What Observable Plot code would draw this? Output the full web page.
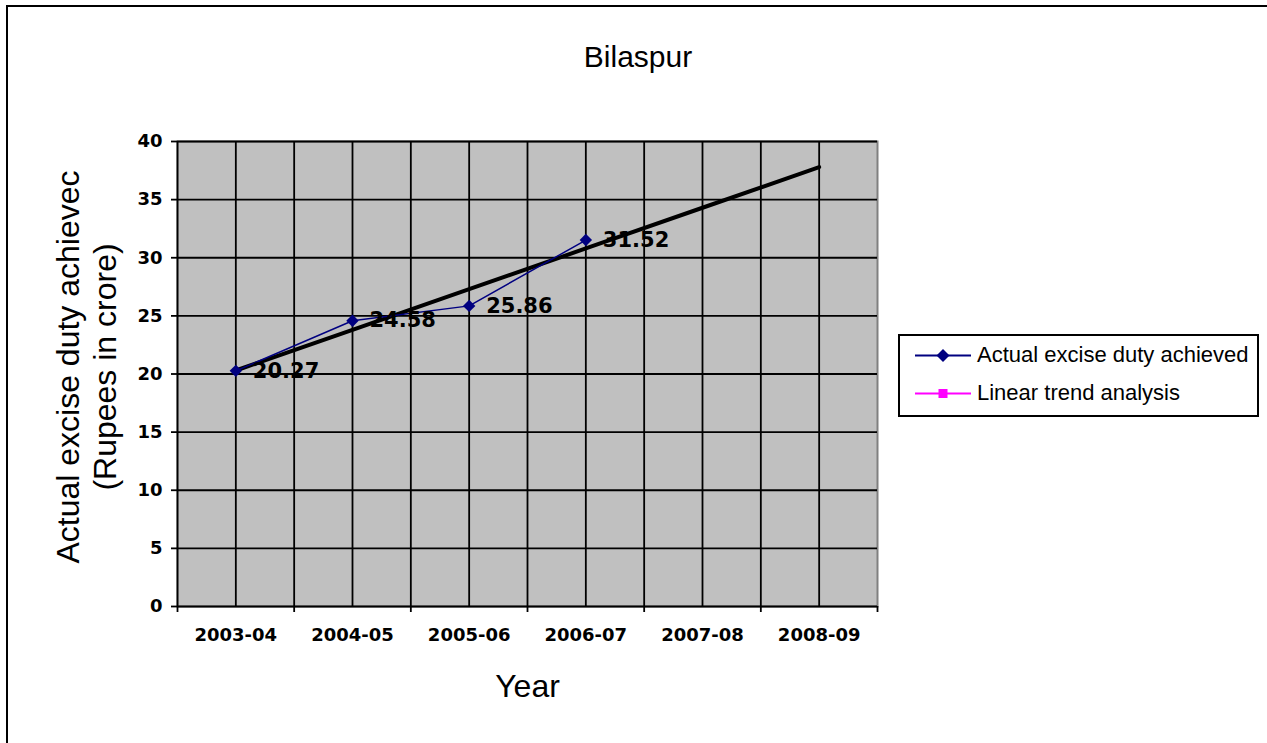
<!DOCTYPE html>
<html><head><meta charset="utf-8">
<script src="https://cdn.jsdelivr.net/npm/d3@7"></script>
<script src="https://cdn.jsdelivr.net/npm/@observablehq/plot@0.6"></script>
<style>
body{margin:0;overflow:hidden;background:#fff;font-family:"Liberation Sans",Arial,sans-serif}
#wrap{position:relative;width:1267px;height:743px;overflow:hidden;background:#fff}
#border{position:absolute;left:6px;top:5px;width:1300px;height:800px;border:2px solid #000}
#chart{position:absolute;left:0;top:0}
#title{position:absolute;left:0;width:1276px;top:40px;text-align:center;font-size:30px;line-height:34px;color:#000}
#legend{position:absolute;left:898px;top:334px;width:361px;height:83px;border:2px solid #000;background:#fff;box-sizing:border-box}
.row{position:absolute;left:15px;height:26px;display:flex;align-items:center;font-size:22px;white-space:nowrap;color:#000}
.row svg{margin-right:6px;flex:none}
</style></head>
<body>
<div id="wrap">
<div id="border"></div>
<div id="chart"></div>
<div id="title"></div>
<div id="legend"></div>
</div>
<script>
const chartTitle = "Bilaspur";
const years = ["2003-04","2004-05","2005-06","2006-07","2007-08","2008-09"];
const actual = [20.27, 24.58, 25.86, 31.52];
const trend = [20.3, 23.8, 27.3, 30.8, 34.3, 37.8];
const yTicks = [0,5,10,15,20,25,30,35,40];
const seriesNames = ["Actual excise duty achieved","Linear trend analysis"];
const seriesColors = ["#000080","#ff00ff"];
const yLabel = "Actual excise duty achievec\n(Rupees in crore)";
const xLabel = "Year";

const actualData = actual.map((v,i)=>({x:i+1, y:v, label:v.toFixed(2)}));
const trendData = trend.map((v,i)=>({x:i+1, y:v}));
const centers = years.map((d,i)=>i+1);
const bounds = d3.range(years.length+1).map(i=>i+0.5);
const vgrid = [...centers, ...bounds.slice(1,-1)];
const font = "Liberation Sans, Arial, sans-serif";
const boldFont = "DejaVu Sans, Liberation Sans, sans-serif";

const plot = Plot.plot({
  width:1267, height:743,
  marginLeft:177, marginRight:390, marginTop:141, marginBottom:137,
  style:{fontFamily:font, background:"transparent", color:"#000"},
  x:{type:"linear", domain:[0.5, years.length+0.5]},
  y:{domain:[0,40]},
  marks:[
    Plot.frame({fill:"#c0c0c0", stroke:"#808080", strokeWidth:2}),
    Plot.ruleY(yTicks.slice(1), {stroke:"#000", strokeWidth:1.8}),
    Plot.ruleX(vgrid, {stroke:"#000", strokeWidth:1.8}),
    Plot.ruleX([0.5], {stroke:"#000", strokeWidth:1.8}),
    Plot.ruleY([0], {stroke:"#000", strokeWidth:1.8}),
    Plot.axisY({ticks:yTicks, tickSize:6, tickPadding:9, fontSize:18, fontWeight:"bold", fontFamily:boldFont, label:null, strokeWidth:1.8}),
    Plot.axisX({ticks:bounds, tickSize:6, tickFormat:()=>"", label:null, strokeWidth:1.8}),
    Plot.axisX({ticks:centers, tickSize:0, tickPadding:22, tickFormat:i=>years[i-1], fontSize:18, fontWeight:"bold", fontFamily:boldFont, label:null}),
    Plot.line(trendData, {x:"x", y:"y", stroke:"#000", strokeWidth:4}),
    Plot.line(actualData, {x:"x", y:"y", stroke:"#000080", strokeWidth:1.5}),
    Plot.dot(actualData, {x:"x", y:"y", symbol:"diamond2", fill:"#000080", stroke:"none", r:5.6}),
    Plot.text(actualData, {x:"x", y:"y", text:"label", dx:17, textAnchor:"start", fontSize:21, fontWeight:"bold", fontFamily:boldFont, fill:"#000"}),
    Plot.text([yLabel], {frameAnchor:"left", textAnchor:"middle", rotate:-90, dx:-92, dy:-7, fontSize:32, lineHeight:1.15, fill:"#000"}),
    Plot.text([xLabel], {frameAnchor:"bottom", dy:90, fontSize:32, fill:"#000"})
  ]
});
document.getElementById("chart").appendChild(plot);
document.getElementById("title").textContent = chartTitle;

const leg = document.getElementById("legend");
seriesNames.forEach((name,i)=>{
  const row = document.createElement("div");
  row.className = "row";
  row.style.top = (i===0 ? 6 : 44) + "px";
  const marker = i===0
    ? `<path d="M28 6 L34.5 12.5 L28 19 L21.5 12.5 Z" fill="${seriesColors[i]}"/>`
    : `<rect x="23.5" y="8" width="9" height="9" fill="${seriesColors[i]}"/>`;
  row.innerHTML = `<svg width="56" height="25"><line x1="0" x2="56" y1="12.5" y2="12.5" stroke="${seriesColors[i]}" stroke-width="2"/>${marker}</svg><span>${name}</span>`;
  leg.appendChild(row);
});
</script>
</body></html>
